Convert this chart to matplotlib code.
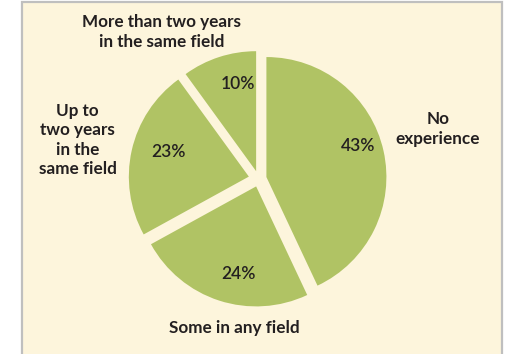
import matplotlib
matplotlib.use("Agg")
import matplotlib.pyplot as plt
from matplotlib.patches import Rectangle

categories = ["No\nexperience", "Some in any field", "Up to\ntwo years\nin the\nsame field",
              "More than two years\nin the same field"]
values = [43, 24, 23, 10]

BG = "#fdf5dc"
GREEN = "#b0c364"
TXT = "#231f20"
W, H = 523, 354

plt.rcParams['font.family'] = ['Lato', 'DejaVu Sans']

fig = plt.figure(figsize=(W / 100, H / 100), dpi=100)
fig.patch.set_facecolor("white")
ax = fig.add_axes([0, 0, 1, 1])
ax.set_xlim(0, W)
ax.set_ylim(0, H)
ax.axis("off")

# framed panel
ax.add_patch(Rectangle((22, -5), 479.5, H - 0.5 + 5 - 1.5, facecolor=BG,
                       edgecolor="#bfbfbf", linewidth=1.6, zorder=0))

cx, cy, R = 258.6, H - 178.8, 120
wedges, texts, autotexts = ax.pie(
    values, labels=categories, explode=[8, 8, 10, 8], radius=R, center=(cx, cy),
    startangle=90, counterclock=False, colors=[GREEN] * 4,
    autopct=lambda p: f"{p:.0f}%", pctdistance=0.75, labeldistance=1.3,
    wedgeprops=dict(linewidth=0), frame=True,
    textprops=dict(color=TXT, fontsize=12))
ax.set_xlim(0, W)
ax.set_ylim(0, H)
ax.set_aspect("equal")
ax.axis("off")

label_pos = [(438, 129), (234.5, 328), (77.5, 140), (162, 32)]
pct_pos = [(358, 146), (238, 274), (169, 152), (238, 84)]
for t, (x, y) in zip(texts, label_pos):
    t.set_position((x, H - y))
    t.set_ha("center")
    t.set_va("center")
    t.set_fontweight("bold")
    t.set_fontsize(12.3)
    t.set_linespacing(1.25)
for t, (x, y) in zip(autotexts, pct_pos):
    t.set_position((x, H - y))
    t.set_ha("center")
    t.set_va("center")
    t.set_fontweight("semibold")
    t.set_fontsize(12.5)

fig.savefig("out.png", dpi=100, facecolor="white")
